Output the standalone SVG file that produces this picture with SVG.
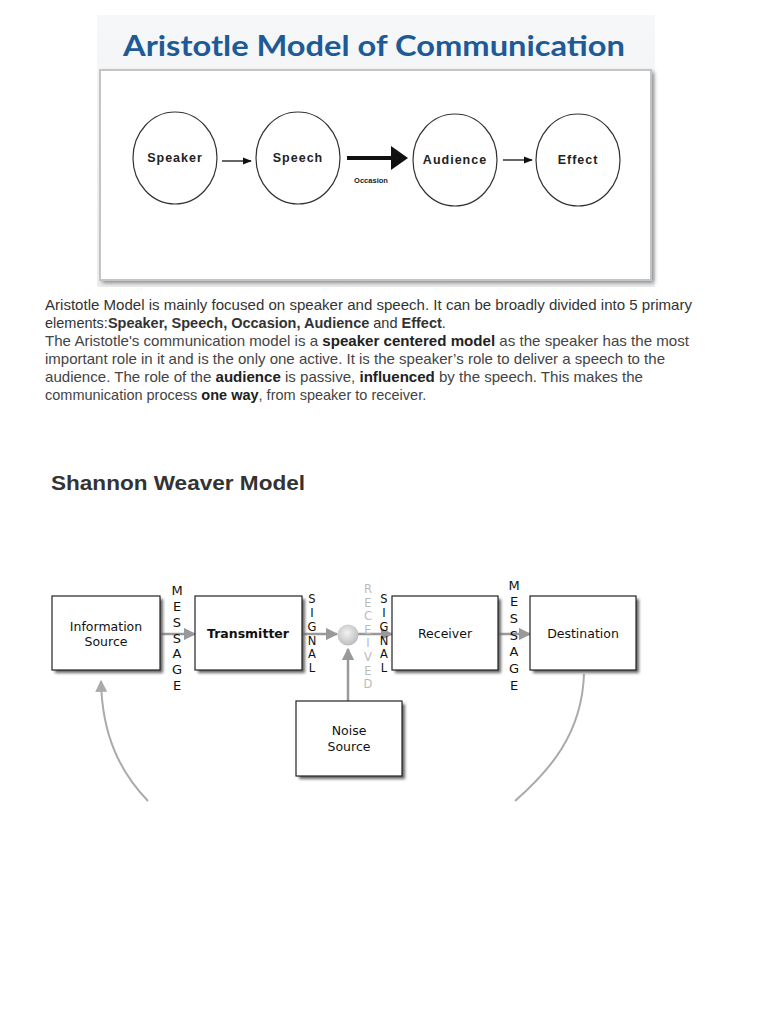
<svg xmlns="http://www.w3.org/2000/svg" width="768" height="1024" viewBox="0 0 768 1024">
<defs>
<style>
.circ{fill:#fff;stroke:#333;stroke-width:1.2}
.clab{font-family:"Liberation Sans",Arial,sans-serif;font-weight:bold;font-size:12.5px;letter-spacing:1px;fill:#222;text-anchor:middle}
.para{font-family:"Liberation Sans",Arial,sans-serif;font-size:14.5px;fill:#3a3a3a}
.box{fill:#fff;stroke:#222;stroke-width:1.2}
.shad{fill:#666;filter:url(#blur)}
.blab{font-family:"DejaVu Sans",sans-serif;font-size:12.5px;fill:#111;text-anchor:middle}
.vl{font-family:"DejaVu Sans",sans-serif;font-size:13px;fill:#111;text-anchor:middle}
.vs{font-family:"DejaVu Sans",sans-serif;font-size:11.5px;fill:#111;text-anchor:middle}
.vg{font-family:"DejaVu Sans",sans-serif;font-size:11.5px;fill:#bbb;text-anchor:middle}
.ga{stroke:#999;stroke-width:2.5;fill:none}
.gc{stroke:#aaa;stroke-width:2;fill:none}
</style>
<filter id="blur" x="-20%" y="-20%" width="140%" height="140%"><feGaussianBlur stdDeviation="1.5"/></filter>
<filter id="pblur" x="-5%" y="-5%" width="110%" height="110%"><feGaussianBlur stdDeviation="2"/></filter>
<marker id="ah" viewBox="0 0 10 10" refX="9" refY="5" markerWidth="9" markerHeight="9" markerUnits="userSpaceOnUse" orient="auto"><path d="M0,1 L10,5 L0,9 z" fill="#111"/></marker>
<marker id="gh" viewBox="0 0 10 10" refX="9" refY="5" markerWidth="5" markerHeight="5" orient="auto"><path d="M0,0 L10,5 L0,10 z" fill="#999"/></marker>
<marker id="gh2" viewBox="0 0 10 10" refX="9" refY="5" markerWidth="6" markerHeight="6" orient="auto"><path d="M0,0 L10,5 L0,10 z" fill="#aaa"/></marker>
<radialGradient id="dot" cx="45%" cy="40%" r="60%"><stop offset="0" stop-color="#f2f2f2"/><stop offset="1" stop-color="#bdbdbd"/></radialGradient>
<linearGradient id="panel" x1="0" y1="0" x2="0" y2="1"><stop offset="0" stop-color="#f6f7f9"/><stop offset="1" stop-color="#eceef0"/></linearGradient>
</defs>
<rect width="768" height="1024" fill="#fff"/>

<g id="aristotle-panel">
<rect x="97" y="15" width="558" height="272" fill="url(#panel)"/>
<text x="374" y="56" font-family="Lato,'Open Sans',sans-serif" font-weight="bold" font-size="29" fill="#1d5a96" text-anchor="middle" textLength="502" lengthAdjust="spacingAndGlyphs">Aristotle Model of Communication</text>
<rect x="102" y="72" width="552" height="211" fill="#888" filter="url(#pblur)"/>
<rect x="100" y="70" width="551" height="210" fill="#fff" stroke="#c4c4c4" stroke-width="2"/>
</g>

<g id="speaker"><ellipse class="circ" cx="175" cy="158" rx="42" ry="46"/><text class="clab" x="175" y="162">Speaker</text></g>
<g id="speech"><ellipse class="circ" cx="298" cy="158" rx="42" ry="46"/><text class="clab" x="298" y="162">Speech</text></g>
<g id="audience"><ellipse class="circ" cx="455" cy="160" rx="42" ry="46"/><text class="clab" x="455" y="164">Audience</text></g>
<g id="effect"><ellipse class="circ" cx="578" cy="160" rx="42" ry="46"/><text class="clab" x="578" y="164">Effect</text></g>

<g id="aristotle-connectors">
<line x1="222" y1="161" x2="251" y2="161" stroke="#111" stroke-width="1.3" marker-end="url(#ah)"/>
<line x1="347" y1="158" x2="393" y2="158" stroke="#111" stroke-width="4"/>
<path d="M391,146 L408,158 L391,170 z" fill="#111"/>
<line x1="503" y1="160" x2="532" y2="160" stroke="#111" stroke-width="1.3" marker-end="url(#ah)"/>
<text x="371" y="183" font-family="Liberation Sans,Arial,sans-serif" font-weight="bold" font-size="7.5" fill="#222" text-anchor="middle">Occasion</text>
</g>

<g id="paragraph" class="para">
<text x="45" y="310" fill="#333" textLength="647" lengthAdjust="spacingAndGlyphs">Aristotle Model is mainly focused on speaker and speech. It can be broadly divided into 5 primary</text>
<text x="45" y="328" fill="#333">elements:<tspan font-weight="bold">Speaker, Speech, Occasion, Audience</tspan> and <tspan font-weight="bold">Effect</tspan>.</text>
<text x="45" y="346" fill="#444" textLength="644" lengthAdjust="spacingAndGlyphs">The Aristotle's communication model is a <tspan font-weight="bold" fill="#222">speaker centered model</tspan> as the speaker has the most</text>
<text x="45" y="364" fill="#444" textLength="620" lengthAdjust="spacingAndGlyphs">important role in it and is the only one active. It is the speaker’s role to deliver a speech to the</text>
<text x="45" y="382" fill="#444" textLength="598" lengthAdjust="spacingAndGlyphs">audience. The role of the <tspan font-weight="bold" fill="#222">audience</tspan> is passive, <tspan font-weight="bold" fill="#222">influenced</tspan> by the speech. This makes the</text>
<text x="45" y="400" fill="#444">communication process <tspan font-weight="bold" fill="#222">one way</tspan>, from speaker to receiver.</text>
</g>

<text x="51" y="490" font-family="Liberation Sans,Arial,sans-serif" font-weight="bold" font-size="20.5" fill="#333" textLength="254" lengthAdjust="spacingAndGlyphs">Shannon Weaver Model</text>

<g id="shannon-connectors">
<line class="ga" x1="160" y1="634" x2="195" y2="634" marker-end="url(#gh)"/>
<line class="ga" x1="302" y1="634" x2="337" y2="634" marker-end="url(#gh)"/>
<line class="ga" x1="358" y1="634" x2="392" y2="634" marker-end="url(#gh)"/>
<line class="ga" x1="498" y1="634" x2="530" y2="634" marker-end="url(#gh)"/>
<line class="ga" x1="348" y1="701" x2="348" y2="649" stroke-width="3" marker-end="url(#gh)"/>
<path class="gc" d="M148,801 C120,772 102,735 101,681" marker-end="url(#gh2)"/>
<path class="gc" d="M515,801 C548,772 582,735 584,674"/>
</g>

<g id="channel"><circle cx="348" cy="635" r="10.5" fill="url(#dot)"/></g>

<g id="information-source"><rect class="shad" x="55" y="599" width="108" height="74"/><rect class="box" x="52" y="596" width="108" height="74"/><text class="blab" x="106" y="631">Information</text><text class="blab" x="106" y="646">Source</text></g>
<g id="transmitter"><rect class="shad" x="198" y="599" width="107" height="74"/><rect class="box" x="195" y="596" width="107" height="74"/><text class="blab" x="248" y="638" font-weight="bold" font-size="12">Transmitter</text></g>
<g id="receiver"><rect class="shad" x="395" y="599" width="106" height="74"/><rect class="box" x="392" y="596" width="106" height="74"/><text class="blab" x="445" y="638">Receiver</text></g>
<g id="destination"><rect class="shad" x="533" y="599" width="106" height="74"/><rect class="box" x="530" y="596" width="106" height="74"/><text class="blab" x="583" y="638">Destination</text></g>
<g id="noise-source"><rect class="shad" x="299" y="704" width="106" height="75"/><rect class="box" x="296" y="701" width="106" height="75"/><text class="blab" x="349" y="735">Noise</text><text class="blab" x="349" y="751">Source</text></g>

<g id="labels">
<text class="vl" x="177" y="595">M</text><text class="vl" x="177" y="611">E</text><text class="vl" x="177" y="627">S</text><text class="vl" x="177" y="643">S</text><text class="vl" x="177" y="658">A</text><text class="vl" x="177" y="674">G</text><text class="vl" x="177" y="690">E</text>
<text class="vs" x="312" y="603">S</text><text class="vs" x="312" y="617">I</text><text class="vs" x="312" y="631">G</text><text class="vs" x="312" y="645">N</text><text class="vs" x="312" y="658">A</text><text class="vs" x="312" y="672">L</text>
<text class="vg" x="368" y="593">R</text><text class="vg" x="368" y="607">E</text><text class="vg" x="368" y="620">C</text><text class="vg" x="368" y="634">E</text><text class="vg" x="368" y="647">I</text><text class="vg" x="368" y="661">V</text><text class="vg" x="368" y="675">E</text><text class="vg" x="368" y="688">D</text>
<text class="vs" x="384" y="603">S</text><text class="vs" x="384" y="617">I</text><text class="vs" x="384" y="631">G</text><text class="vs" x="384" y="645">N</text><text class="vs" x="384" y="658">A</text><text class="vs" x="384" y="672">L</text>
<text class="vl" x="514" y="590">M</text><text class="vl" x="514" y="606">E</text><text class="vl" x="514" y="623">S</text><text class="vl" x="514" y="640">S</text><text class="vl" x="514" y="656">A</text><text class="vl" x="514" y="673">G</text><text class="vl" x="514" y="690">E</text>
</g>
</svg>
